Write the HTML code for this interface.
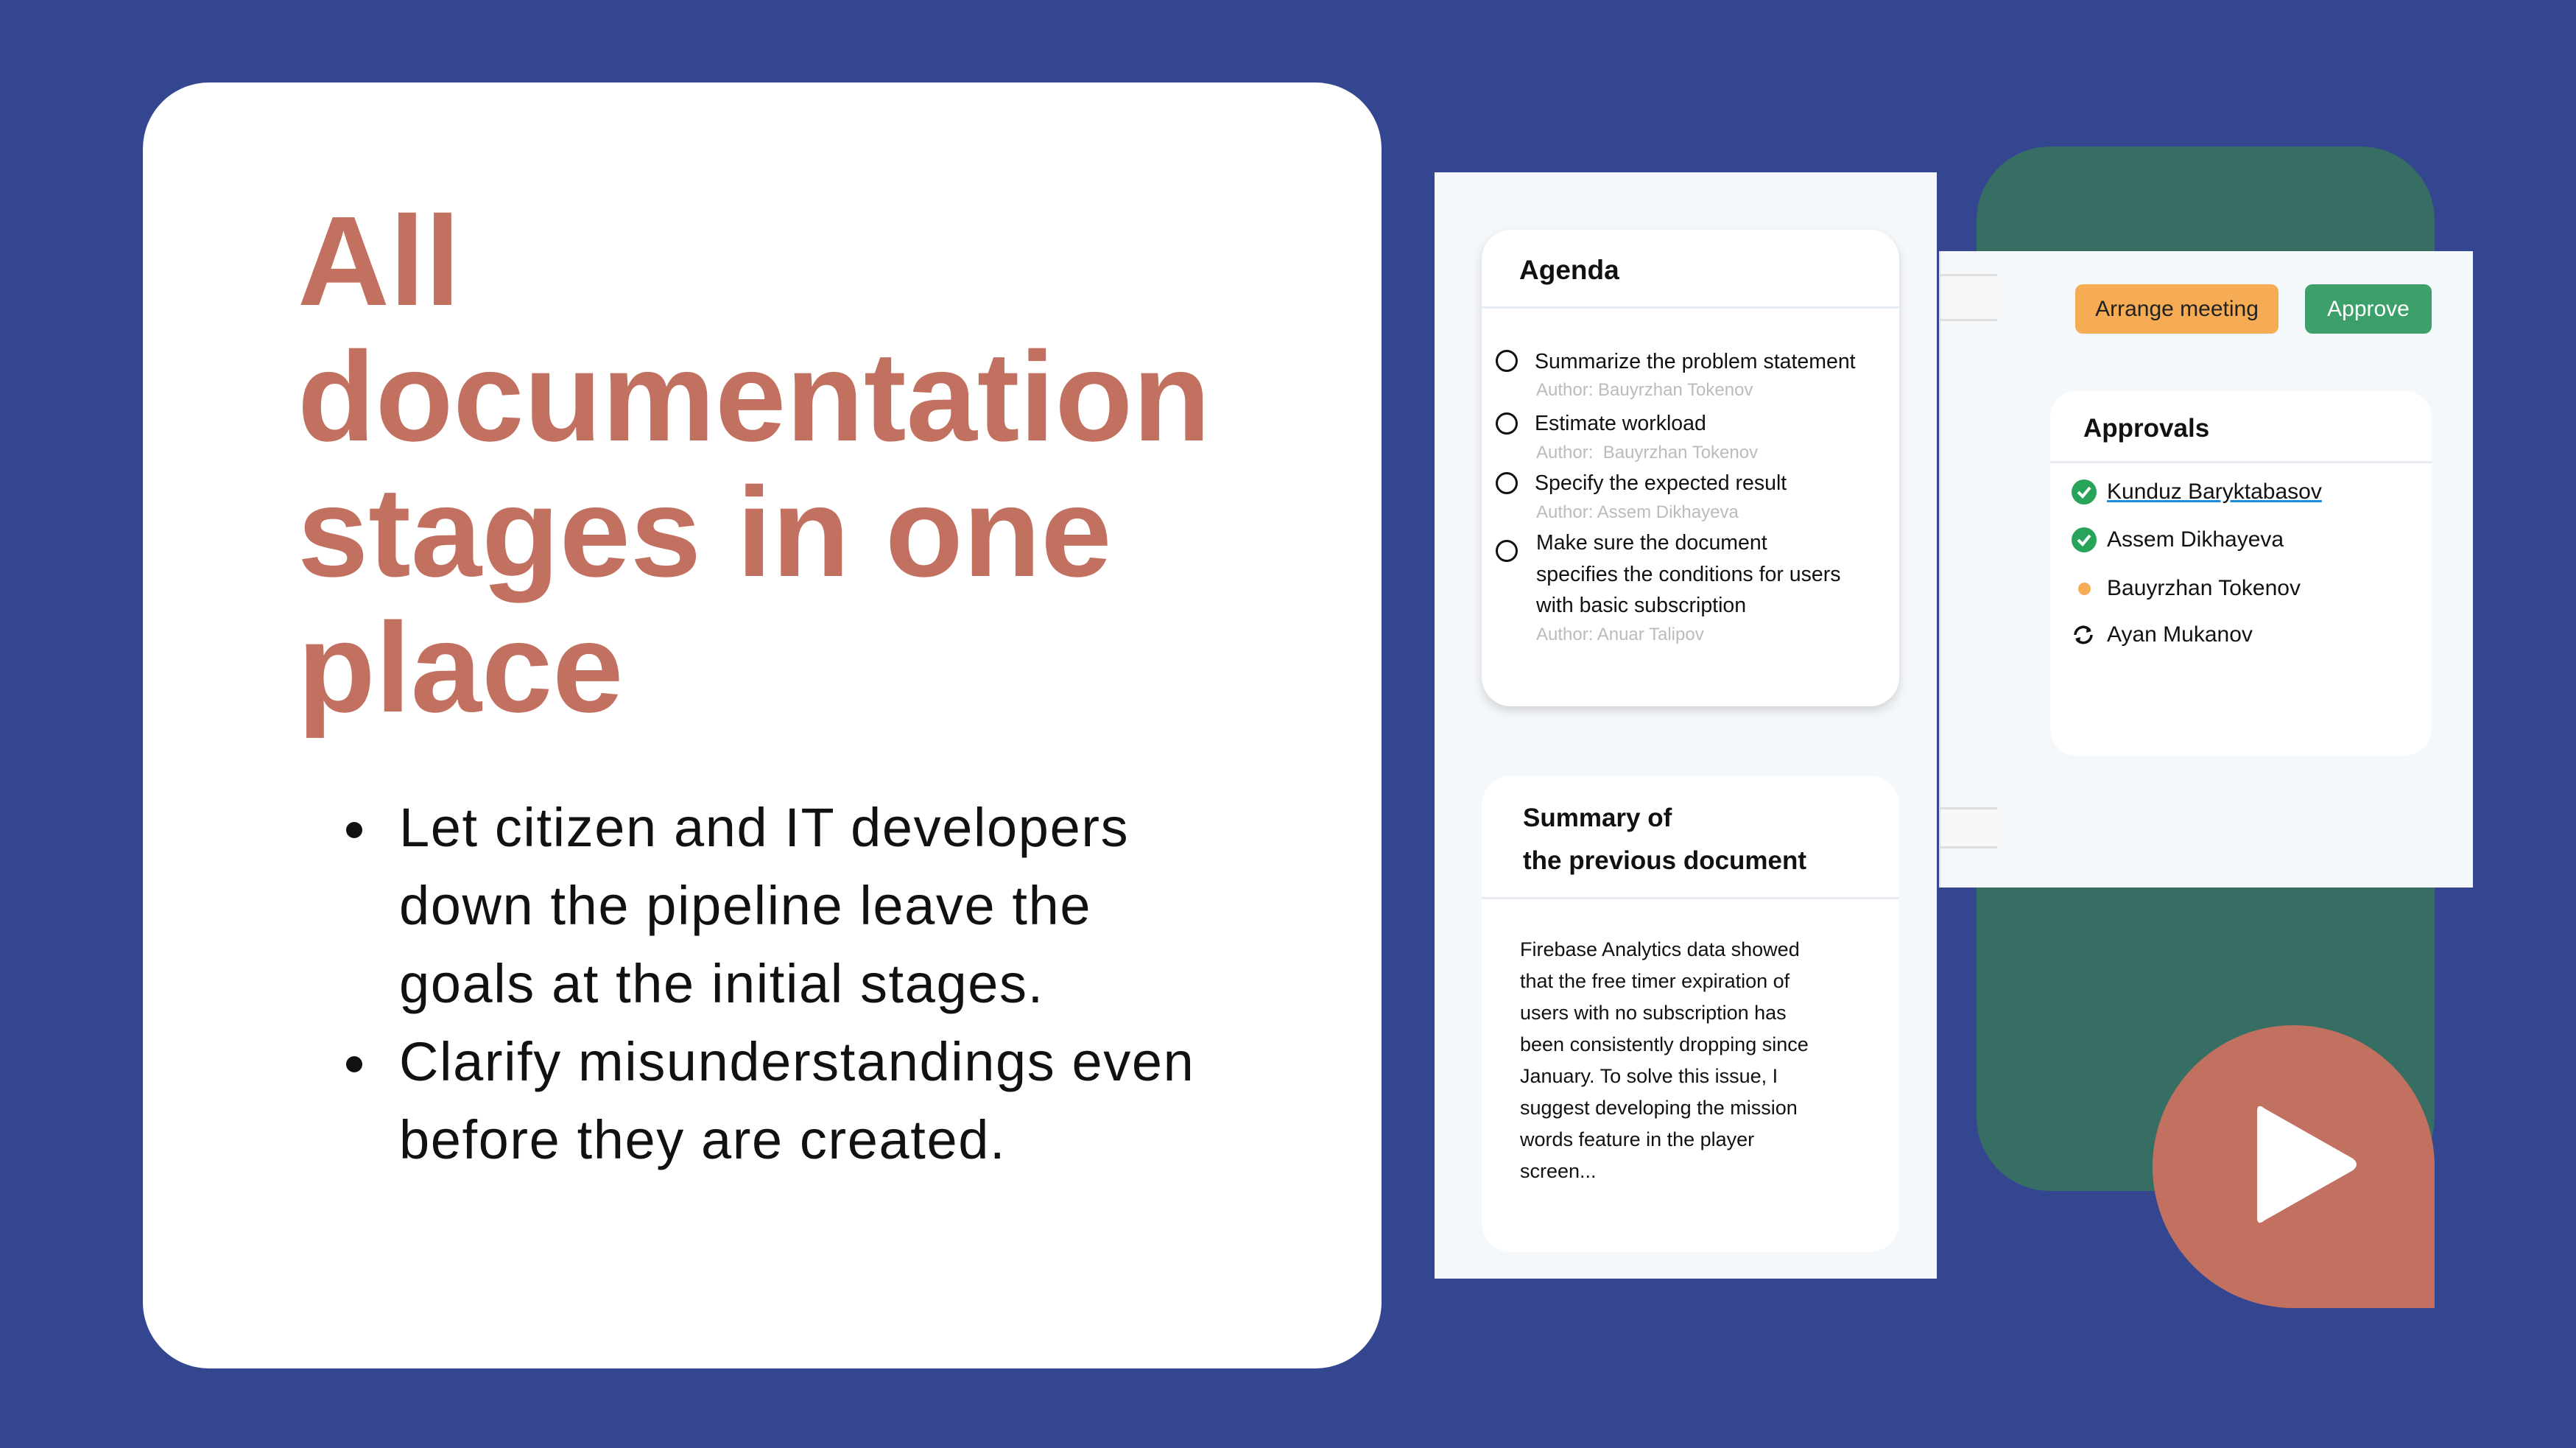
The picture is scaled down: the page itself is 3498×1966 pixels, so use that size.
<!DOCTYPE html>
<html><head><meta charset="utf-8"><style>
*{margin:0;padding:0;box-sizing:border-box}
body{width:3498px;height:1966px;background:#33468F;position:relative;overflow:hidden;font-family:"Liberation Sans",sans-serif}
.a{position:absolute}
.t{white-space:nowrap}
</style></head><body>
<div class="a" style="left:194px;top:112px;width:1682px;height:1746px;background:#fff;border-radius:90px"></div>
<div class="a t" style="left:404px;top:262px;font-size:173px;line-height:184px;font-weight:bold;color:#C27060;letter-spacing:0px">All<br>documentation<br>stages in one<br>place</div>
<div class="a t" style="left:542px;top:1071px;font-size:74px;line-height:106px;color:#111;letter-spacing:1.6px">Let citizen and IT developers<br>down the pipeline leave the<br>goals at the initial stages.<br>Clarify misunderstandings even<br>before they are created.</div>
<div class="a" style="left:470px;top:1116px;width:22px;height:22px;border-radius:50%;background:#111"></div>
<div class="a" style="left:470px;top:1434px;width:22px;height:22px;border-radius:50%;background:#111"></div>

<div class="a" style="left:2684px;top:199px;width:622px;height:1418px;background:#366E63;border-radius:100px"></div>

<div class="a" style="left:1948px;top:234px;width:682px;height:1502px;background:#F5F8FB"></div>
<div class="a" style="left:2012px;top:312px;width:567px;height:647px;background:#fff;border-radius:40px;box-shadow:0 6px 14px rgba(0,0,0,0.15)"></div>
<div class="a" style="left:2012px;top:416px;width:567px;height:3px;background:#E8EDF3"></div>
<div class="a t" style="left:2063px;top:346px;font-size:37px;font-weight:bold;color:#111">Agenda</div>
<div class="a t" style="left:2084px;top:471px;font-size:28.5px;line-height:40px;color:#111">Summarize the problem statement</div>
<div class="a t" style="left:2086px;top:512px;font-size:24px;line-height:36px;color:#bbb">Author: Bauyrzhan Tokenov</div>
<div class="a t" style="left:2084px;top:555px;font-size:28.5px;line-height:40px;color:#111">Estimate workload</div>
<div class="a t" style="left:2086px;top:597px;font-size:24px;line-height:36px;color:#bbb">Author:&nbsp; Bauyrzhan Tokenov</div>
<div class="a t" style="left:2084px;top:636px;font-size:28.5px;line-height:40px;color:#111">Specify the expected result</div>
<div class="a t" style="left:2086px;top:678px;font-size:24px;line-height:36px;color:#bbb">Author: Assem Dikhayeva</div>
<div class="a t" style="left:2086px;top:716px;font-size:28.5px;line-height:42.5px;color:#111">Make sure the document<br>specifies the conditions for users<br>with basic subscription</div>
<div class="a t" style="left:2086px;top:844px;font-size:24px;line-height:36px;color:#bbb">Author: Anuar Talipov</div>
<div class="a" style="left:2031px;top:475px;width:30px;height:30px;border:3px solid #111;border-radius:50%"></div>
<div class="a" style="left:2031px;top:560px;width:30px;height:30px;border:3px solid #111;border-radius:50%"></div>
<div class="a" style="left:2031px;top:641px;width:30px;height:30px;border:3px solid #111;border-radius:50%"></div>
<div class="a" style="left:2031px;top:733px;width:30px;height:30px;border:3px solid #111;border-radius:50%"></div>

<div class="a" style="left:2012px;top:1053px;width:567px;height:647px;background:#fff;border-radius:40px"></div>
<div class="a" style="left:2012px;top:1218px;width:567px;height:3px;background:#E8EDF3"></div>
<div class="a t" style="left:2068px;top:1082px;font-size:35px;line-height:58px;font-weight:bold;color:#111">Summary of<br>the previous document</div>
<div class="a t" style="left:2064px;top:1268px;font-size:27px;line-height:43px;color:#111">Firebase Analytics data showed<br>that the free timer expiration of<br>users with no subscription has<br>been consistently dropping since<br>January. To solve this issue, I<br>suggest developing the mission<br>words feature in the player<br>screen...</div>

<div class="a" style="left:2633px;top:341px;width:725px;height:864px;background:#F5F8FB;border-left:2px solid #ddd"></div>
<div class="a" style="left:2635px;top:372px;width:77px;height:64px;background:#f7f7f7;border-top:3px solid #ddd;border-bottom:3px solid #ddd"></div>
<div class="a" style="left:2635px;top:1096px;width:77px;height:56px;background:#f7f7f7;border-top:3px solid #ddd;border-bottom:3px solid #ddd"></div>
<div class="a t" style="left:2818px;top:386px;width:276px;height:67px;background:#F5AC55;border-radius:10px;font-size:30px;line-height:67px;text-align:center;color:#222">Arrange meeting</div>
<div class="a t" style="left:3130px;top:386px;width:172px;height:67px;background:#3DA06A;border-radius:10px;font-size:30px;line-height:67px;text-align:center;color:#fff">Approve</div>
<div class="a" style="left:2784px;top:531px;width:518px;height:495px;background:#fff;border-radius:36px"></div>
<div class="a" style="left:2784px;top:626px;width:518px;height:3px;background:#E8EDF3"></div>
<div class="a t" style="left:2829px;top:562px;font-size:35px;font-weight:bold;color:#111">Approvals</div>
<div class="a t" style="left:2861px;top:648px;font-size:30px;line-height:40px;color:#111;text-decoration:underline;text-decoration-color:#1a8fe0;text-decoration-thickness:3px">Kunduz Baryktabasov</div>
<div class="a t" style="left:2861px;top:713px;font-size:30px;line-height:40px;color:#111">Assem Dikhayeva</div>
<div class="a t" style="left:2861px;top:779px;font-size:30px;line-height:40px;color:#111">Bauyrzhan Tokenov</div>
<div class="a t" style="left:2861px;top:842px;font-size:30px;line-height:40px;color:#111">Ayan Mukanov</div>
<svg class="a" style="left:2812px;top:650px" width="36" height="36" viewBox="0 0 36 36"><circle cx="18" cy="18" r="17" fill="#27A35A"/><path d="M10 18l6 6 10-12" stroke="#fff" stroke-width="4" fill="none"/></svg>
<svg class="a" style="left:2812px;top:715px" width="36" height="36" viewBox="0 0 36 36"><circle cx="18" cy="18" r="17" fill="#27A35A"/><path d="M10 18l6 6 10-12" stroke="#fff" stroke-width="4" fill="none"/></svg>
<div class="a" style="left:2822px;top:791px;width:17px;height:17px;border-radius:50%;background:#F5AC55"></div>
<svg class="a" style="left:2812px;top:845px" width="34" height="34" viewBox="0 0 34 34"><path d="M6 17a11 11 0 0 1 20-6M28 17a11 11 0 0 1-20 6" stroke="#111" stroke-width="3.5" fill="none"/><path d="M22 6l6 6-7 2z M12 28l-6-6 7-2z" fill="#111"/></svg>

<div class="a" style="left:2923px;top:1392px;width:383px;height:384px;background:#C27060;border-radius:50% 50% 0 50%"></div>
<svg class="a" style="left:3055px;top:1495px" width="155" height="172" viewBox="0 0 155 172"><path d="M10 14 Q10 2 20 10 L140 78 Q150 86 140 94 L20 162 Q10 170 10 158 Z" fill="#fff"/></svg>
</body></html>
